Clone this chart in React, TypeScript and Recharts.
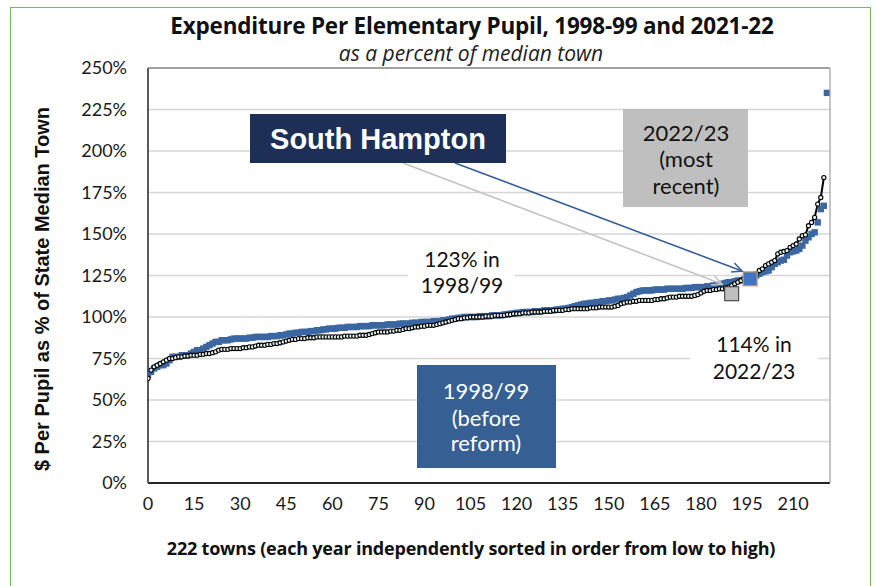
import React from 'react'
import { ComposedChart, Line, Scatter, XAxis, YAxis, CartesianGrid } from 'recharts'

const W = 876
const H = 586

// 1998/99 spending per pupil, % of state median town, sorted low to high
const pct1998 = [
  65, 67, 69, 70, 71, 71, 72, 74, 76, 76,
  76, 77, 77, 77, 78, 79, 80, 80, 81, 82,
  83, 84, 85, 85, 86, 86, 86, 86.5, 87, 87,
  87, 87, 87, 87.5, 87.5, 88, 88, 88, 88, 88,
  88.5, 88.5, 88.5, 89, 89, 89.5, 90, 90, 90.5, 90.5,
  91, 91, 91, 91.5, 91.5, 92, 92, 92.5, 92.5, 93,
  93, 93, 93.5, 93.5, 93.5, 94, 94, 94, 94, 94.5,
  94.5, 94.5, 94.5, 95, 95, 95, 95, 95, 95.5, 95.5,
  95.5, 95.5, 96, 96, 96, 96, 96.5, 96.5, 96.5, 97,
  97, 97, 97, 97.5, 97.5, 97.5, 98, 98, 98.5, 99,
  99, 99.5, 99.5, 100, 100, 100, 100, 100, 100.5, 100.5,
  100.5, 100.5, 101, 101, 101, 101, 101.5, 101.5, 102, 102,
  102.5, 102.5, 103, 103, 103, 103, 103.5, 103.5, 103.5, 104,
  104, 104, 104, 104.5, 104.5, 105, 105, 105.5, 106, 106.5,
  107, 107.5, 108, 108, 108.5, 108.5, 109, 109, 109.5, 109.5,
  110, 110, 110.5, 111, 111, 111.5, 112, 113, 114, 115,
  115.5, 116, 116, 116, 116, 116.5, 116.5, 116.5, 116.5, 117,
  117, 117, 117, 117, 117, 117.5, 117.5, 117.5, 118, 118,
  118, 118, 118.5, 118.5, 119, 119, 119.5, 120, 120.5, 121,
  121, 121.5, 122, 122, 122.5, 123, 123, 124, 125, 126,
  127, 127.5, 128, 130, 132, 133, 134, 134.5, 137, 139,
  139.5, 140, 141, 143, 146, 148, 150, 151, 157, 165,
  167, 235,
]

// 2022/23 spending per pupil, % of state median town, sorted low to high
const pct2022 = [
  63, 68, 70, 71, 72, 73, 74, 75, 75, 75.5,
  76, 76, 76.5, 76.5, 77, 77, 77, 77.5, 77.5, 78,
  78, 78.5, 79, 80, 80.5, 80.5, 80.5, 81, 81, 81,
  81, 81.5, 81.5, 82, 82, 82.5, 83, 83, 83, 83.5,
  83.5, 84, 84, 84.5, 85, 85.5, 86, 86.5, 86.5, 87,
  87, 87, 87.5, 87.5, 87.5, 88, 88, 88, 88, 88,
  88, 88, 88, 88, 88.5, 88.5, 88.5, 88.5, 88.5, 89,
  89, 89, 89.5, 90, 90.5, 91, 91, 91, 91, 91.5,
  91.5, 92, 92, 92.5, 93, 93, 93.5, 94, 94, 94.5,
  94.5, 95, 95, 95, 95.5, 96, 96.5, 97, 97.5, 98,
  98.5, 99, 99, 99.5, 99.5, 100, 100, 100, 100, 100,
  100.5, 100.5, 100.5, 101, 101, 101, 101, 101.5, 101.5, 102,
  102, 102, 102.5, 102.5, 102.5, 103, 103, 103, 103, 103.5,
  103.5, 103.5, 104, 104, 104, 104, 104.5, 104.5, 105, 105,
  105, 105, 105, 105, 105.5, 105.5, 105.5, 106, 106, 106,
  106, 106, 106.5, 107, 108, 108.5, 109, 109, 109.5, 109.5,
  110, 110, 110, 110, 110, 110.5, 110.5, 111, 111, 111.5,
  112, 112, 112, 112.5, 112.5, 112.5, 112.5, 112.5, 113, 113.5,
  114.5, 115.5, 116, 116, 116.5, 116.5, 117, 117, 117.5, 118,
  119, 120, 121, 122, 123, 124, 124.5, 125, 126, 128,
  129, 131, 132, 133, 134, 138, 139, 139.5, 140, 142,
  143, 144, 147, 149, 149.5, 155, 157, 160, 168, 172,
  184,
]

const xTicks = [0, 15, 30, 45, 60, 75, 90, 105, 120, 135, 150, 165, 180, 195, 210]
const yTicks = [0, 25, 50, 75, 100, 125, 150, 175, 200, 225, 250]

// South Hampton's own position in each year
const southHampton1998 = [{ town: 196, pct: 123 }]
const southHampton2022 = [{ town: 190, pct: 114 }]

const rows1998 = pct1998.map((pct, town) => ({ town, pct }))
const rows2022 = pct2022.map((pct, town) => ({ town, pct }))

const BLUE = '#3a66a2'
const SANS = 'Lato, "Open Sans", sans-serif'
const HEAD = '"Open Sans", Roboto, sans-serif'
const ARIAL = '"Liberation Sans", Arial, sans-serif'

function Arrow({ x1, y1, x2, y2, color }: { x1: number; y1: number; x2: number; y2: number; color: string }) {
  const a = Math.atan2(y2 - y1, x2 - x1)
  const len = 11
  const p1 = [x2 - len * Math.cos(a - 0.45), y2 - len * Math.sin(a - 0.45)]
  const p2 = [x2 - len * Math.cos(a + 0.45), y2 - len * Math.sin(a + 0.45)]
  return (
    <g stroke={color} strokeWidth={1.6} fill="none">
      <line x1={x1} y1={y1} x2={x2} y2={y2} />
      <polyline points={`${p1[0]},${p1[1]} ${x2},${y2} ${p2[0]},${p2[1]}`} />
    </g>
  )
}

export default function App() {
  return (
    <div style={{ position: 'absolute', left: 0, top: 0, width: W, height: H, background: '#fff', overflow: 'hidden' }}>
      <div style={{ position: 'absolute', left: 10, top: 7, width: 859, height: 600, border: '1px solid #7cb55a' }} />

      <div style={{ position: 'absolute', left: 0, top: 0 }}>
        <ComposedChart width={W} height={H} margin={{ top: 68, right: 46, left: 88, bottom: 73 }}>
          <CartesianGrid vertical={false} stroke="#d6d6d6" strokeWidth={1.3} />
          <XAxis
            type="number"
            dataKey="town"
            domain={[0, 222]}
            ticks={xTicks}
            allowDataOverflow
            tickLine={false}
            tickSize={0}
            tickMargin={14}
            axisLine={{ stroke: '#262626', strokeWidth: 2 }}
            tick={{ fill: '#1a1a1a', fontSize: 18, fontFamily: SANS }}
          />
          <YAxis
            type="number"
            dataKey="pct"
            width={60}
            domain={[0, 250]}
            ticks={yTicks}
            tickLine={false}
            tickSize={0}
            tickMargin={21}
            axisLine={{ stroke: '#595959', strokeWidth: 2 }}
            tick={{ fill: '#1a1a1a', fontSize: 18, fontFamily: SANS }}
            tickFormatter={(v) => `${v}%`}
          />
          <Line
            data={rows1998}
            dataKey="pct"
            stroke="none"
            isAnimationActive={false}
            activeDot={false}
            dot={(p: any) => (
              <rect key={`b${p.index}`} x={p.cx - 3.2} y={p.cy - 3.2} width={6.4} height={6.4} fill={BLUE} />
            )}
          />
          <Line
            data={rows2022}
            dataKey="pct"
            type="linear"
            stroke="#000"
            strokeWidth={2}
            isAnimationActive={false}
            activeDot={false}
            dot={{ r: 2.1, fill: '#e6f2f2', stroke: '#000', strokeWidth: 1.1 }}
          />
          <Scatter
            data={southHampton2022}
            dataKey="pct"
            isAnimationActive={false}
            shape={(p: any) => (
              <rect x={p.cx - 7} y={p.cy - 7} width={14} height={14} fill="#bfbfbf" stroke="#333" strokeWidth={1} />
            )}
          />
          <Scatter
            data={southHampton1998}
            dataKey="pct"
            isAnimationActive={false}
            shape={(p: any) => (
              <rect x={p.cx - 7} y={p.cy - 7} width={14} height={14} fill="#4472c4" stroke="#c9a25e" strokeWidth={1.2} />
            )}
          />
        </ComposedChart>
      </div>

      <svg width={W} height={H} style={{ position: 'absolute', left: 0, top: 0, pointerEvents: 'none' }}>
        {/* top and right edges of plot frame */}
        <line x1={148} y1={68} x2={830} y2={68} stroke="#8c8c8c" strokeWidth={1.3} />
        <line x1={830} y1={68} x2={830} y2={483} stroke="#a6a6a6" strokeWidth={1.3} />

        <Arrow x1={403} y1={163} x2={722} y2={284} color="#c4c4c4" />
        <Arrow x1={455} y1={163} x2={742} y2={271} color="#37609a" />

        <rect x={250} y={114} width={256} height={49} fill="#1d2f56" />
        <text x={378} y={139} textAnchor="middle" dominantBaseline="central" fill="#fff"
          fontFamily={ARIAL} fontWeight="bold" fontSize={29}>South Hampton</text>

        <rect x={623} y={109} width={125} height={98} fill="#bfbfbf" />
        <g fontFamily={SANS} fontSize={22} fill="#111" textAnchor="middle" dominantBaseline="central">
          <text x={686} y={132}>2022/23</text>
          <text x={686} y={158}>(most</text>
          <text x={686} y={185}>recent)</text>
        </g>

        <rect x={408} y={246} width={107} height={52} fill="#fff" />
        <g fontFamily={SANS} fontSize={21} fill="#111" textAnchor="middle" dominantBaseline="central">
          <text x={462} y={258}>123% in</text>
          <text x={462} y={284}>1998/99</text>
        </g>

        <rect x={690} y={330} width={128} height={54} fill="#fff" />
        <g fontFamily={SANS} fontSize={21} fill="#111" textAnchor="middle" dominantBaseline="central">
          <text x={754} y={343}>114% in</text>
          <text x={754} y={370}>2022/23</text>
        </g>

        <rect x={417} y={365} width={139} height={103} fill="#365f94" />
        <g fontFamily={SANS} fontSize={22} fill="#fff" textAnchor="middle" dominantBaseline="central">
          <text x={486} y={390}>1998/99</text>
          <text x={486} y={417}>(before</text>
          <text x={486} y={442}>reform)</text>
        </g>
      </svg>

      <div style={{ position: 'absolute', left: 0, width: 944, top: 13, lineHeight: '26px', textAlign: 'center', fontFamily: HEAD, fontWeight: 700, fontSize: 22.5, color: '#111', letterSpacing: -0.2 }}>
        Expenditure Per Elementary Pupil, 1998-99 and 2021-22
      </div>
      <div style={{ position: 'absolute', left: 0, width: 942, top: 42, lineHeight: '22px', textAlign: 'center', fontFamily: HEAD, fontStyle: 'italic', fontSize: 21, color: '#222' }}>
        as a percent of median town
      </div>
      <div style={{ position: 'absolute', left: 0, width: 942, top: 536, textAlign: 'center', fontFamily: HEAD, fontWeight: 700, fontSize: 18, color: '#111', letterSpacing: -0.2 }}>
        222 towns (each year independently sorted in order from low to high)
      </div>
      <div style={{ position: 'absolute', left: 42, top: 289, width: 0, height: 0 }}>
        <div style={{ position: 'absolute', transform: 'translate(-50%, -50%) rotate(-90deg)', whiteSpace: 'nowrap', fontFamily: ARIAL, fontWeight: 700, fontSize: 20, color: '#111' }}>
          $ Per Pupil as % of State Median Town
        </div>
      </div>
    </div>
  )
}
